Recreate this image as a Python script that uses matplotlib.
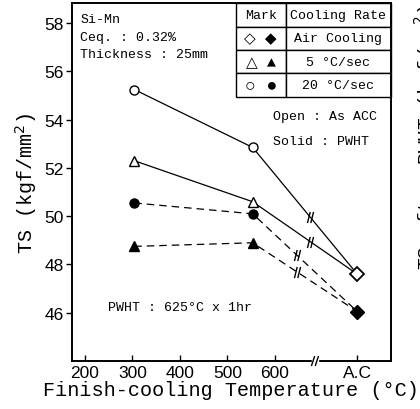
import matplotlib
matplotlib.use("Agg")
import matplotlib.pyplot as plt
from matplotlib.path import Path
import matplotlib.patches as mpatches

# finish-cooling temperature (°C); air cooling is put at a fake position "A.C"
temps = [304, 553]
ac_pos = 773
break_x = 684

# TS (kgf/mm2), open = as ACC, solid = after PWHT
r20_open = [55.25, 52.85]
r20_solid = [50.55, 50.1]
r5_open = [52.3, 50.6]
r5_solid = [48.75, 48.9]
air_open = 47.6
air_solid = 46.05

xticks = [200, 300, 400, 500, 600, ac_pos]
xticklabels = ["200", "300", "400", "500", "600", "A.C"]
yticks = [46, 48, 50, 52, 54, 56, 58]

mono = ["Liberation Mono", "DejaVu Sans"]
sans = "Liberation Sans"

fig = plt.figure(figsize=(4.2, 4.1), dpi=100)
ax = fig.add_axes([0.171, 0.117, 0.76, 0.873])

# little "//" symbol used to mark the broken scale on the lines
brk = Path([(-0.55, -1), (-0.05, 1), (0.05, -1), (0.55, 1)],
           [Path.MOVETO, Path.LINETO, Path.MOVETO, Path.LINETO])

lw = 0.9
for vals, mk in [(r20_open, "o"), (r5_open, "^")]:
    xs = temps + [ac_pos]
    ys = vals + [air_open]
    ax.plot(xs, ys, "-", color="k", lw=lw, zorder=2)
    ax.plot(temps, vals, mk, ms=6.5, mfc="white", mec="k", mew=1.0, zorder=3)
    # break mark along the last segment
    f = 0.55
    bx = temps[1] + f * (ac_pos - temps[1])
    by = vals[1] + f * (air_open - vals[1])
    ax.plot(bx, by, marker=brk, ms=8, color="k", mew=1.0, zorder=3)

for vals, mk in [(r20_solid, "o"), (r5_solid, "^")]:
    xs = temps + [ac_pos]
    ys = vals + [air_solid]
    ax.plot(xs, ys, "--", color="k", lw=lw, dashes=(6, 4), zorder=2)
    ax.plot(temps, vals, mk, ms=6.5, mfc="k", mec="k", zorder=3)
    f = 0.42
    bx = temps[1] + f * (ac_pos - temps[1])
    by = vals[1] + f * (air_solid - vals[1])
    ax.plot(bx, by, marker=brk, ms=8, color="k", mew=1.0, zorder=3)

ax.plot([ac_pos], [air_open], "D", ms=7.5, mfc="white", mec="k", mew=1.3, zorder=4)
ax.plot([ac_pos], [air_solid], "D", ms=7.5, mfc="k", mec="k", zorder=4)

ax.set_xlim(172.6, 844)
ax.set_ylim(44, 58.83)
ax.set_xticks(xticks)
ax.set_xticklabels(xticklabels)
ax.set_yticks(yticks)
ax.tick_params(axis="y", direction="out", length=4, width=1, labelsize=12.5, pad=2)
ax.tick_params(axis="x", direction="in", length=4, width=1, labelsize=12.5, pad=3)
for lab in ax.get_xticklabels() + ax.get_yticklabels():
    lab.set_fontfamily(sans)
for sp in ax.spines.values():
    sp.set_linewidth(1.4)

# break on the x axis
trans = ax.get_xaxis_transform()
ax.add_patch(mpatches.Rectangle((break_x - 7, -0.01), 14, 0.02, transform=trans,
                                color="white", clip_on=False, zorder=5))
for dx in (-4, 4):
    ax.plot([break_x + dx - 3, break_x + dx + 3], [-0.012, 0.012], color="k",
            lw=1.0, transform=trans, clip_on=False, zorder=6)

ax.set_xlabel("Finish-cooling Temperature (°C)", fontfamily=mono, fontsize=14.5, labelpad=0)
ax.set_ylabel("TS (kgf/mm$^2$)", fontfamily=mono, fontsize=14.5, labelpad=4)

# notes inside the plot
ax.text(0.027, 0.955, "Si-Mn", transform=ax.transAxes, fontfamily=mono, fontsize=9.5, va="center")
ax.text(0.027, 0.905, "Ceq. : 0.32%", transform=ax.transAxes, fontfamily=mono, fontsize=9.5, va="center")
ax.text(0.027, 0.858, "Thickness : 25mm", transform=ax.transAxes, fontfamily=mono, fontsize=9.5, va="center")
ax.text(0.63, 0.685, "Open : As ACC", transform=ax.transAxes, fontfamily=mono, fontsize=9.5, va="center")
ax.text(0.63, 0.615, "Solid : PWHT", transform=ax.transAxes, fontfamily=mono, fontsize=9.5, va="center")
ax.text(0.112, 0.152, "PWHT : 625°C x 1hr", transform=ax.transAxes, fontfamily=mono, fontsize=9.5, va="center")

# mark / cooling rate table
marks = ["◇ ◆", "△ ▲", "○ ●"]
rates = ["Air Cooling", "5 °C/sec", "20 °C/sec"]
cells = [[m, r] for m, r in zip(marks, rates)]
tbl = ax.table(cellText=cells, colLabels=["Mark", "Cooling Rate"],
               colWidths=[0.32, 0.68], cellLoc="center",
               bbox=[0.514, 0.738, 0.486, 0.262])
tbl.auto_set_font_size(False)
for (r, c), cell in tbl.get_celld().items():
    cell.set_linewidth(1.0)
    cell.get_text().set_fontfamily(mono)
    cell.get_text().set_fontsize(9.5)
    if r > 0 and c == 0:
        cell.get_text().set_fontsize(11 if r != 3 else 13)

# clipped label of the right-hand panel (cut by the figure edge as in the source)
fig.text(1.012, 0.665, "TS after PWHT (kgf/mm$^2$)", rotation=90, ha="center", va="center",
         fontfamily=mono, fontsize=14)

fig.savefig("out.png", dpi=100)
